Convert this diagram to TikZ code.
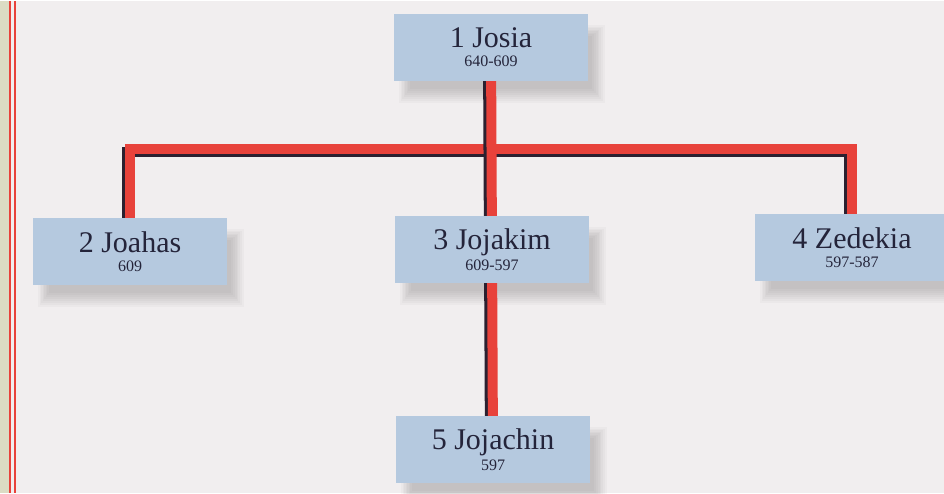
\documentclass[tikz,border=0pt]{standalone}
\usepackage{fontspec}
\setmainfont{Liberation Serif}
\pgfdeclarelayer{paper}
\pgfdeclarelayer{background}
\pgfdeclarelayer{lines}
\pgfsetlayers{paper,background,lines,main}
\definecolor{pagebg}{HTML}{F1EEEF}
\definecolor{kingfill}{HTML}{B5C9DF}
\definecolor{linered}{HTML}{E8423B}
\definecolor{lineshade}{HTML}{2B2030}
\definecolor{inkblue}{HTML}{24243A}
\definecolor{edgebeige}{HTML}{DCDCC4}
\newcommand{\king}[2]{{\fontsize{30}{16}\selectfont #1}\\[3pt]#2}
\tikzset{
  kingbox/.style={fill=kingfill, text=inkblue, minimum width=194pt, minimum height=67pt,
    inner sep=0pt, align=center, font=\fontsize{16}{16}\selectfont},
  lineage/.style={draw=linered, line width=10pt,
    preaction={draw=lineshade, line width=10pt, transform canvas={shift={(-3pt,-3pt)}}}}
}
\begin{document}
\begin{tikzpicture}[x=1pt,y=-1pt]
\begin{pgfonlayer}{paper}
\fill[pagebg] (0,0) rectangle (944,492);
% left page edge
\fill[edgebeige] (0,0) rectangle (9,492);
\draw[linered, line width=2pt] (10,0) -- (10,492);
\draw[linered, line width=2pt] (14.5,0) -- (14.5,492);
\end{pgfonlayer}
\useasboundingbox (0,0) rectangle (944,492);
% kings
\node[kingbox] (josia)    at (491,46.5)  {\king{1 Josia}{640-609}};
\node[kingbox] (joahas)   at (130,250.5) {\king{2 Joahas}{609}};
\node[kingbox] (jojakim)  at (492,248.5) {\king{3 Jojakim}{609-597}};
\node[kingbox] (zedekia)  at (852,246.5) {\king{4 Zedekia}{597-587}};
\node[kingbox] (jojachin) at (493,448.5) {\king{5 Jojachin}{597}};
% soft shadows
\begin{pgfonlayer}{background}
\foreach \k in {josia,joahas,jojakim,zedekia,jojachin}
  \foreach \r in {0,...,7}
    \fill[black, opacity=0.025]
      ([shift={(16-1.5*\r,22-1.5*\r)}]\k.north west) rectangle ([shift={(4+1.8*\r,8+2*\r)}]\k.south east);
\end{pgfonlayer}
\coordinate (barleft)  at (130,148);
\coordinate (barright) at (852,148);
% lines
\begin{pgfonlayer}{lines}
\draw[lineage] (joahas.center) -- (barleft) -- (barright) -- (zedekia.center);
\draw[lineage] (josia.center) -- (jojakim.center);
\draw[lineage] (jojakim.center) -- (jojachin.center);
\end{pgfonlayer}
\end{tikzpicture}
\end{document}
